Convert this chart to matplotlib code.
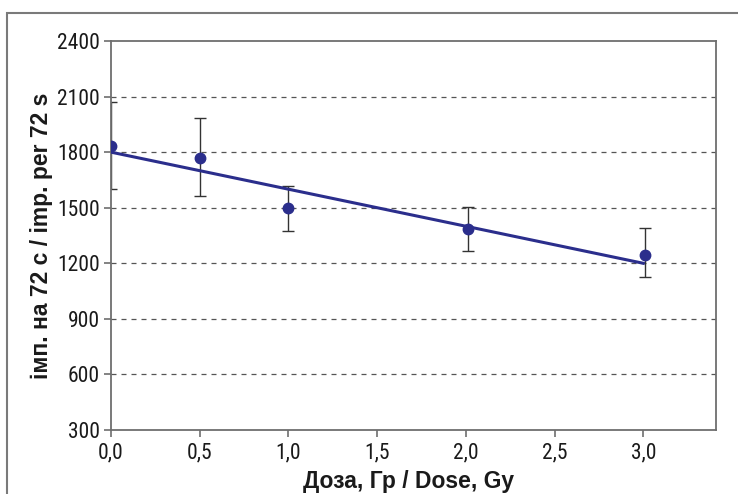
import matplotlib
matplotlib.use('Agg')
import matplotlib.pyplot as plt
from matplotlib import font_manager
from matplotlib.patches import Rectangle

# дані
dose = [0.0, 0.5, 1.0, 2.01, 3.01]
counts = [1833, 1768, 1497, 1385, 1245]
err_low = [232, 205, 123, 119, 119]
err_high = [238, 218, 120, 121, 145]

fit_x = [0.0, 3.0]
fit_y = [1800, 1200]

y_ticks = [300, 600, 900, 1200, 1500, 1800, 2100, 2400]
x_ticks = [0.0, 0.5, 1.0, 1.5, 2.0, 2.5, 3.0]
x_labels = ['0,0', '0,5', '1,0', '1,5', '2,0', '2,5', '3,0']

navy = '#2b2e8c'
gray = '#6e6e6e'

# вузький шрифт для підписів осей, якщо є
installed = {f.name for f in font_manager.fontManager.ttflist}
tick_font = 'Liberation Sans'
for name in ['Liberation Sans Narrow', 'DejaVu Sans Condensed', 'Roboto Condensed']:
    if name in installed:
        tick_font = name
        break

fig = plt.figure(figsize=(7.38, 4.94), dpi=100)
ax = fig.add_axes([111 / 738, 1 - 430 / 494, (716 - 111) / 738, (430 - 41) / 494])

# рамка навколо рисунка
fig.patches.append(Rectangle((7 / 738, -0.1), 1.2, 1.1 - 13 / 494,
                             transform=fig.transFigure, fill=False,
                             edgecolor='#7a7a7a', linewidth=1.5))

for y in y_ticks[1:-1]:
    ax.axhline(y, color='#555555', linestyle=(0, (4, 4)), linewidth=0.9, zorder=1)

ax.plot(fit_x, fit_y, color=navy, linewidth=2.2, zorder=3)
ax.errorbar(dose, counts, yerr=[err_low, err_high], fmt='none',
            ecolor='#333333', elinewidth=1.0, capsize=4, capthick=1.0, zorder=2)
ax.plot(dose, counts, 'o', color=navy, markersize=7.5, zorder=4)

ax.set_xlim(0, 3.41)
ax.set_ylim(300, 2400)
ax.set_yticks(y_ticks)
ax.set_xticks(x_ticks)
ax.set_xticklabels(x_labels)

for s in ax.spines.values():
    s.set_color(gray)
    s.set_linewidth(1.3)

ax.tick_params(axis='both', colors=gray, length=5, width=1.2, labelcolor='#1a1a1a',
               labelsize=15.5, labelfontfamily=tick_font)
ax.tick_params(axis='x', pad=4)
ax.tick_params(axis='y', pad=3)

ax.set_xlabel('Доза, Гр / Dose, Gy', fontsize=16.5, fontweight='bold',
              fontfamily='Liberation Sans', color='#1a1a1a')
ax.set_ylabel('імп. на 72 с / imp. per 72 s', fontsize=16.5, fontweight='bold',
              fontfamily='Liberation Sans', color='#1a1a1a')
ax.xaxis.set_label_coords(0.492, -0.103)
ax.yaxis.set_label_coords(-0.096, 0.5)

fig.savefig('out.png', dpi=100)
